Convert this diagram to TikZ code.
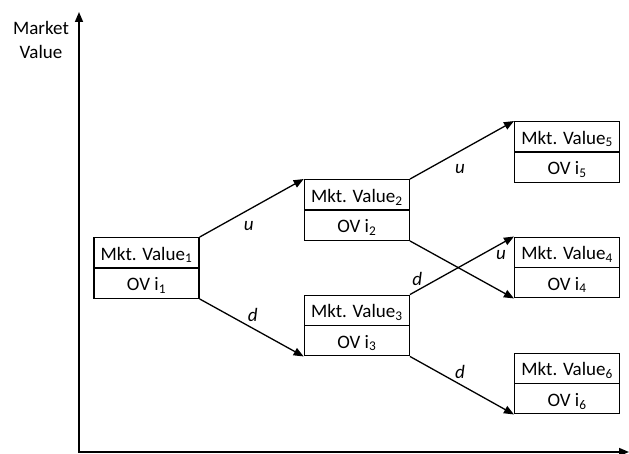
\documentclass[tikz,border=0pt]{standalone}
\usepackage{fontspec}
\setmainfont{Carlito}
\usetikzlibrary{positioning}
\usetikzlibrary{arrows.meta}
\usetikzlibrary{shapes.multipart}
\newcommand{\boxstrut}{\rule[-7pt]{0pt}{29pt}}

\begin{document}
\begin{tikzpicture}[
			x=1pt, y=1pt,
			font=\fontsize{19}{23.5}\selectfont,
			node distance=104pt,
			valbox/.style={rectangle split, rectangle split parts=2, draw=black, line width=1.3pt, minimum width=105pt, inner xsep=2pt, inner ysep=0pt, text centered},
			branch/.style={line width=1.3pt, -{Triangle[length=10pt,width=8pt]}},
			lbl/.style={font=\fontsize{19}{23.5}\selectfont\itshape},
			]
			
			\useasboundingbox (0,0) rectangle (629,-454);
			
			\coordinate (origin) at (79,-452);
			\coordinate (ytip)   at (79,-12);
			\coordinate (xtip)   at (629,-452);
			\node[align=center] (ylabel) at (41,-40) {Market\\Value};
			
			\node[valbox] (mv1) at (146.5,-268)        {\boxstrut Mkt. Value\textsubscript{1}\nodepart{two}\boxstrut OV i\textsubscript{1}};
			\node[valbox] (mv2) [right=of mv1, yshift=58pt]   {\boxstrut Mkt. Value\textsubscript{2}\nodepart{two}\boxstrut OV i\textsubscript{2}};
			\node[valbox] (mv3) [right=of mv1, yshift=-57.5pt] {\boxstrut Mkt. Value\textsubscript{3}\nodepart{two}\boxstrut OV i\textsubscript{3}};
			\node[valbox] (mv5) [right=of mv2, yshift=58pt]   {\boxstrut Mkt. Value\textsubscript{5}\nodepart{two}\boxstrut OV i\textsubscript{5}};
			\node[valbox] (mv4) [right=of mv3, yshift=58pt]   {\boxstrut Mkt. Value\textsubscript{4}\nodepart{two}\boxstrut OV i\textsubscript{4}};
			\node[valbox] (mv6) [right=of mv3, yshift=-58pt]  {\boxstrut Mkt. Value\textsubscript{6}\nodepart{two}\boxstrut OV i\textsubscript{6}};
			
			% axes
			\draw [line width=1.6pt, {Triangle[length=10pt,width=8pt]}-{Triangle[length=10pt,width=8pt]}] (ytip) -- (origin) -- (xtip);
			
			% branches
			\draw [branch] (mv1.north east) --node[lbl, below=9pt, xshift=-3pt] {u} (mv2.north west);
			\draw [branch] (mv1.south east) --node[lbl, above=2pt, xshift=1pt]  {d} (mv3.south west);
			\draw [branch] (mv2.north east) --node[lbl, below=10pt, xshift=-2pt] {u} (mv5.north west);
			\draw [branch] (mv2.south east) -- (mv4.south west);
			\draw [branch] (mv3.north east) --node[lbl, pos=0.07, above=1pt] {d} node[lbl, pos=0.875, below=3pt] {u} (mv4.north west);
			\draw [branch] (mv3.south east) --node[lbl, above=3pt, xshift=-2pt] {d} (mv6.south west);
			
			\end{tikzpicture}
\end{document}
